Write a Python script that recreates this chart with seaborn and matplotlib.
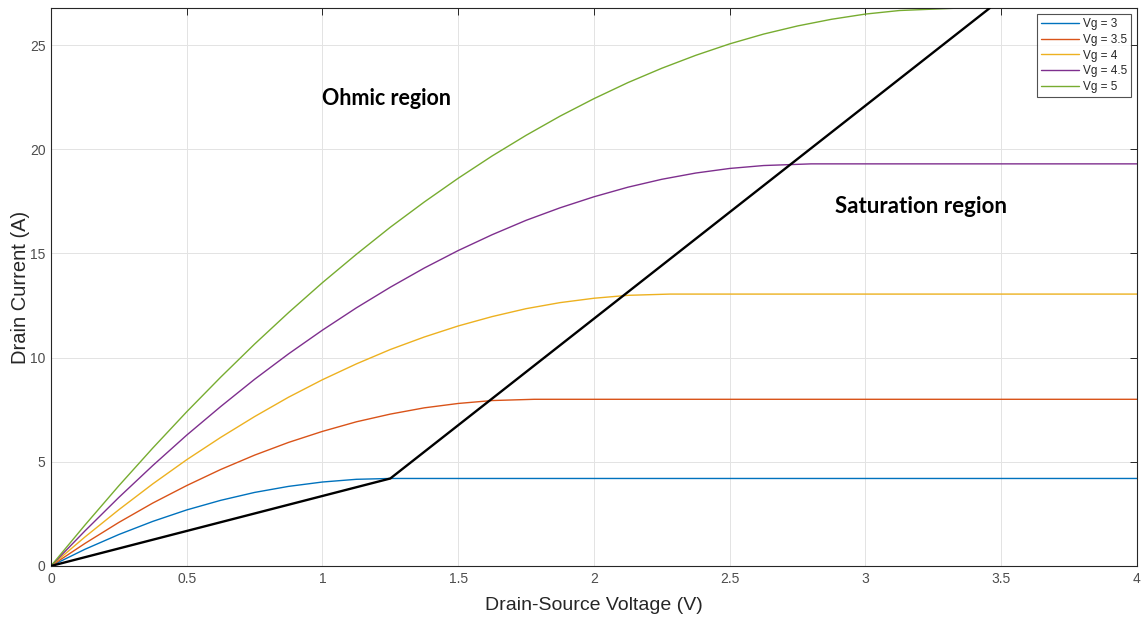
import pandas as pd
import matplotlib
matplotlib.use('Agg')
import matplotlib.pyplot as plt
import seaborn as sns

# drain current curves, one list pair per gate voltage
vds_3 = [0, 0.125, 0.25, 0.375, 0.5, 0.625, 0.75, 0.875, 1.0, 1.125, 1.25, 4.0]
id_3 = [0, 0.80, 1.51, 2.14, 2.69, 3.15, 3.53, 3.82, 4.03, 4.16, 4.2, 4.2]

vds_35 = [0, 0.125, 0.25, 0.375, 0.5, 0.625, 0.75, 0.875, 1.0, 1.125, 1.25,
          1.375, 1.5, 1.625, 1.78, 4.0]
id_35 = [0, 1.08, 2.09, 3.02, 3.86, 4.63, 5.32, 5.93, 6.46, 6.92, 7.29,
         7.59, 7.80, 7.94, 8.0, 8.0]

vds_4 = [0, 0.125, 0.25, 0.375, 0.5, 0.625, 0.75, 0.875, 1.0, 1.125, 1.25,
         1.375, 1.5, 1.625, 1.75, 1.875, 2.0, 2.125, 2.28, 4.0]
id_4 = [0, 1.39, 2.70, 3.94, 5.10, 6.17, 7.17, 8.10, 8.94, 9.70, 10.39,
        10.99, 11.52, 11.97, 12.35, 12.64, 12.85, 12.99, 13.05, 13.05]

vds_45 = [0, 0.125, 0.25, 0.375, 0.5, 0.625, 0.75, 0.875, 1.0, 1.125, 1.25,
          1.375, 1.5, 1.625, 1.75, 1.875, 2.0, 2.125, 2.25, 2.375, 2.5,
          2.625, 2.8, 4.0]
id_45 = [0, 1.68, 3.29, 4.82, 6.28, 7.65, 8.96, 10.18, 11.32, 12.39, 13.38,
         14.30, 15.14, 15.90, 16.59, 17.19, 17.72, 18.18, 18.56, 18.86, 19.08,
         19.22, 19.3, 19.3]

vds_5 = [0, 0.125, 0.25, 0.375, 0.5, 0.625, 0.75, 0.875, 1.0, 1.125, 1.25,
         1.375, 1.5, 1.625, 1.75, 1.875, 2.0, 2.125, 2.25, 2.375, 2.5,
         2.625, 2.75, 2.875, 3.0, 3.125, 3.35, 4.0]
id_5 = [0, 1.96, 3.85, 5.66, 7.40, 9.06, 10.65, 12.16, 13.60, 14.96, 16.26,
        17.47, 18.61, 19.68, 20.67, 21.59, 22.43, 23.20, 23.89, 24.51, 25.06,
        25.53, 25.92, 26.24, 26.49, 26.66, 26.78, 26.78]

labels = ['Vg = 3', 'Vg = 3.5', 'Vg = 4', 'Vg = 4.5', 'Vg = 5']
colors = ['#0072BD', '#D95319', '#EDB120', '#7E2F8E', '#77AC30']

# boundary line between the two regions
boundary_x = [0, 1.25, 3.458]
boundary_y = [0, 4.2, 26.78]

frames = []
for lab, xs, ys in zip(labels, [vds_3, vds_35, vds_4, vds_45, vds_5],
                       [id_3, id_35, id_4, id_45, id_5]):
    frames.append(pd.DataFrame({'vds': xs, 'id': ys, 'curve': lab}))
df = pd.concat(frames, ignore_index=True)

sns.set_theme(style='white')
plt.rcParams['font.family'] = ['Liberation Sans', 'DejaVu Sans']

fig = plt.figure(figsize=(11.45, 6.17), dpi=100)
ax = fig.add_axes([0.0445, 0.0827, 0.9485, 0.9043])

sns.lineplot(data=df, x='vds', y='id', hue='curve', palette=colors,
             hue_order=labels, linewidth=1.0, ax=ax, sort=False)
ax.plot(boundary_x, boundary_y, color='black', linewidth=1.7, zorder=5)

ax.set_xlim(0, 4)
ax.set_ylim(0, 26.78)
ax.set_xticks([0, 0.5, 1, 1.5, 2, 2.5, 3, 3.5, 4])
ax.set_xticklabels(['0', '0.5', '1', '1.5', '2', '2.5', '3', '3.5', '4'])
ax.set_yticks([0, 5, 10, 15, 20, 25])

ax.grid(True, color='#e3e3e3', linewidth=0.7)
ax.set_axisbelow(True)
for s in ax.spines.values():
    s.set_color('#262626')
    s.set_linewidth(0.8)
ax.tick_params(direction='in', length=5, width=0.7, color='#262626',
               top=True, right=True, labelsize=10, labelcolor='#4d4d4d', pad=4)

ax.set_xlabel('Drain-Source Voltage (V)', fontsize=14, color='#262626',
              labelpad=8)
ax.set_ylabel('Drain Current (A)', fontsize=14.5, color='#262626', labelpad=0)

ax.text(1.0, 22.46, 'Ohmic region', fontsize=15.5, fontweight='bold',
        family='Lato', va='center', ha='left', color='black')
ax.text(2.887, 17.23, 'Saturation region', fontsize=16, fontweight='bold',
        family='Lato', va='center', ha='left', color='black')

leg = ax.legend(loc='upper right', fontsize=8.5, handlelength=3.2,
                frameon=True, fancybox=False, borderaxespad=0.5,
                labelspacing=0.32, handletextpad=0.3, borderpad=0.35)
leg.get_frame().set_edgecolor('#262626')
leg.get_frame().set_linewidth(0.8)
for t in leg.get_texts():
    t.set_color('#262626')

fig.savefig('out.png', dpi=100)
